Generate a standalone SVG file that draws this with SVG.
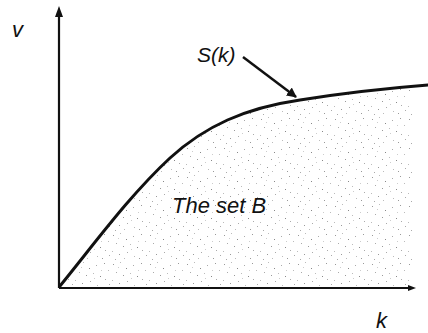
<svg xmlns="http://www.w3.org/2000/svg" width="428" height="333" viewBox="0 0 428 333">
<style>
text{font-family:"Liberation Sans",Arial,sans-serif;font-style:italic;fill:#111}
.ax{stroke:#111;stroke-width:2.2;fill:none}
.cv{stroke:#111;stroke-width:3;fill:none;stroke-linecap:round}
</style>
<defs>
<pattern id="st" width="37" height="29" patternUnits="userSpaceOnUse">
<rect x="2" y="3" width="1" height="1" fill="#999"/>
<rect x="9" y="1" width="1" height="1" fill="#bbb"/>
<rect x="15" y="7" width="1" height="1" fill="#888"/>
<rect x="22" y="4" width="1" height="1" fill="#aaa"/>
<rect x="30" y="2" width="1" height="1" fill="#999"/>
<rect x="34" y="9" width="1" height="1" fill="#bbb"/>
<rect x="5" y="11" width="1" height="1" fill="#aaa"/>
<rect x="12" y="14" width="1" height="1" fill="#999"/>
<rect x="19" y="12" width="1" height="1" fill="#bbb"/>
<rect x="26" y="15" width="1" height="1" fill="#888"/>
<rect x="31" y="18" width="1" height="1" fill="#aaa"/>
<rect x="1" y="19" width="1" height="1" fill="#bbb"/>
<rect x="8" y="22" width="1" height="1" fill="#999"/>
<rect x="16" y="20" width="1" height="1" fill="#aaa"/>
<rect x="23" y="24" width="1" height="1" fill="#bbb"/>
<rect x="28" y="26" width="1" height="1" fill="#999"/>
<rect x="35" y="23" width="1" height="1" fill="#aaa"/>
<rect x="4" y="27" width="1" height="1" fill="#aaa"/>
<rect x="13" y="26" width="1" height="1" fill="#bbb"/>
<rect x="20" y="17" width="1" height="1" fill="#ccc"/>
<rect x="27" y="9" width="1" height="1" fill="#ccc"/>
<rect x="7" y="6" width="1" height="1" fill="#ccc"/>
</pattern>
<clipPath id="cl"><rect x="59" y="0" width="353" height="290"/></clipPath>
<marker id="ah" viewBox="0 0 10 10" refX="9" refY="5" markerWidth="4" markerHeight="4" orient="auto" markerUnits="strokeWidth">
<path d="M0,0 L10,5 L0,10 z" fill="#111"/>
</marker>
</defs>
<g id="setB">
<path clip-path="url(#cl)" fill="url(#st)" d="M60,286 C95,243 130,195 170,158 C205,126 245,108 300,100 C350,92 390,88 428,85 L428,288 L60,288 Z"/>
<text x="172" y="213" font-size="22">The set B</text>
</g>
<g id="axes">
<line class="ax" x1="59" y1="288" x2="59" y2="12"/>
<path d="M55,17 L59,6 L63,17 Z" fill="#111"/>
<line class="ax" x1="59" y1="288" x2="410" y2="288"/>
<path d="M408,285 L416,288 L408,291 Z" fill="#111"/>
<text x="12" y="37" font-size="22">v</text>
<text x="376" y="328" font-size="22">k</text>
</g>
<g id="curve">
<path class="cv" d="M60,286 C95,243 130,195 170,158 C205,126 245,108 300,100 C350,92 390,88 428,85"/>
<text x="197" y="62" font-size="21">S(k)</text>
</g>
<g id="connectors">
<line x1="243" y1="57" x2="296" y2="97" stroke="#111" stroke-width="2.5" marker-end="url(#ah)"/>
</g>
</svg>
